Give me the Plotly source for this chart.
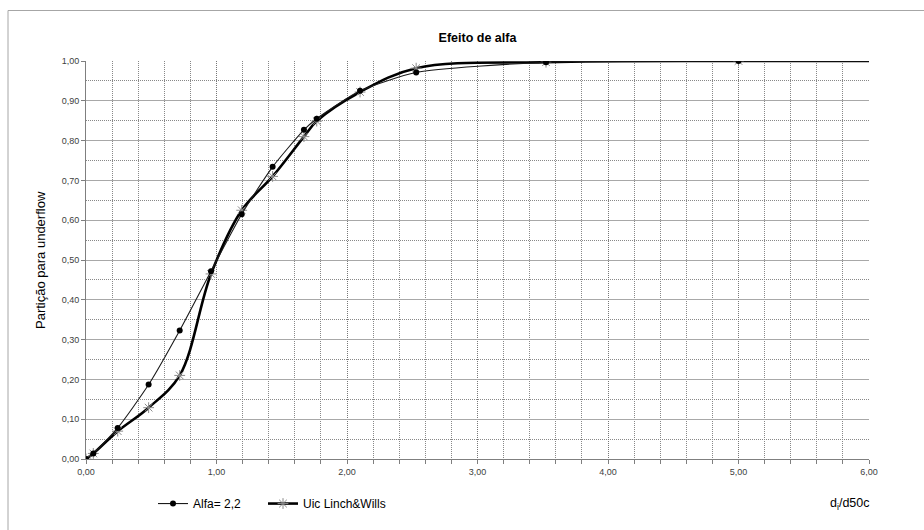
import plotly.graph_objects as go

# ---- data ----
x_ratio = [0.00, 0.056, 0.243, 0.48, 0.718, 0.958, 1.193, 1.43, 1.67, 1.768, 2.10, 2.53, 3.525, 5.00, 6.50]
alfa_22 = [0.000, 0.014, 0.078, 0.187, 0.323, 0.472, 0.615, 0.734, 0.827, 0.855, 0.925, 0.971, 0.997, 1.000, 1.000]
uic_lw = [0.000, 0.014, 0.070, 0.129, 0.210, 0.465, 0.625, 0.710, 0.810, 0.849, 0.922, 0.982, 0.997, 1.000, 1.000]

name_alfa = "Alfa= 2,2"
name_uic = "Uic Linch&Wills"
title_text = "Efeito de alfa"
y_title = "Partição para underflow"
x_title = "d<sub>i</sub>/d50c"

FONT = "Liberation Sans, Arial, sans-serif"

fig = go.Figure()

fig.add_trace(go.Scatter(
    x=x_ratio, y=uic_lw, name=name_uic, mode="lines+markers",
    line=dict(color="#000000", width=2.6, shape="spline", smoothing=1.0),
    marker=dict(symbol="asterisk-open", size=9, color="#8a8a8a",
                line=dict(color="#8a8a8a", width=1)),
    legend="legend2",
))
fig.add_trace(go.Scatter(
    x=x_ratio, y=alfa_22, name=name_alfa, mode="lines+markers",
    line=dict(color="#1a1a1a", width=1.1, shape="spline", smoothing=0.6),
    marker=dict(symbol="circle", size=6, color="#000000"),
    legend="legend",
))

# plot area: x 86..869, y 61..463 in a 924x530 canvas
L, R, T, B = 86, 55, 61, 67
W, H = 924 - L - R, 530 - T - B

def px(xp):
    return (xp - L) / W

def py(yp):
    return (530 - B - yp) / H

leg_common = dict(orientation="h", y=py(508), xanchor="left", yanchor="middle",
                  font=dict(size=12, family=FONT, color="#000000"),
                  itemwidth=30, bgcolor="rgba(0,0,0,0)")

fig.update_layout(
    width=924, height=530,
    margin=dict(l=L, r=R, t=T, b=B),
    paper_bgcolor="white", plot_bgcolor="white",
    separators=",.",
    font=dict(family=FONT, color="#000000"),
    showlegend=True,
    legend=dict(x=px(153), **leg_common),
    legend2=dict(x=px(263), **leg_common),
    title=dict(text="<b>" + title_text + "</b>", x=0.5, xref="paper", y=1 - 38 / 530,
               yanchor="middle", font=dict(size=12.5, family=FONT, color="#000000")),
)

DOT = "1px,1px"
fig.update_xaxes(
    range=[0, 6], dtick=1, tick0=0, tickformat=".2f",
    showline=True, linecolor="#7f7f7f", linewidth=1,
    ticks="outside", ticklen=4, tickcolor="#7f7f7f",
    tickfont=dict(size=9, color="#404040", family=FONT),
    showgrid=True, gridcolor="#777777", gridwidth=1, griddash=DOT,
    minor=dict(dtick=0.2, showgrid=True, gridcolor="#888888", griddash=DOT,
               ticks="outside", ticklen=4, tickcolor="#7f7f7f"),
    zeroline=False, mirror=False,
)
fig.update_yaxes(
    range=[0, 1], dtick=0.1, tick0=0, tickformat=".2f",
    showline=True, linecolor="#7f7f7f", linewidth=1,
    ticks="outside", ticklen=4, tickcolor="#7f7f7f",
    tickfont=dict(size=9, color="#404040", family=FONT),
    showgrid=True, gridcolor="#a8a8a8", gridwidth=1,
    minor=dict(dtick=0.05, showgrid=True, gridcolor="#888888", griddash=DOT),
    zeroline=False,
)

# axis titles
fig.add_annotation(text=y_title, xref="paper", yref="paper", x=px(40), y=py(262),
                   textangle=-90, showarrow=False, xanchor="center", yanchor="middle",
                   font=dict(size=13, family=FONT, color="#000000"))
fig.add_annotation(text=x_title, xref="paper", yref="paper", x=px(872), y=py(508),
                   showarrow=False, xanchor="right", yanchor="middle",
                   font=dict(size=12.5, family=FONT, color="#000000"))

# chart-area border
fig.add_shape(type="rect", xref="paper", yref="paper",
              x0=px(8), y0=py(560), x1=px(960), y1=py(10),
              line=dict(color="#a6a6a6", width=1), fillcolor="rgba(0,0,0,0)", layer="below")

fig.write_html("out.html")
